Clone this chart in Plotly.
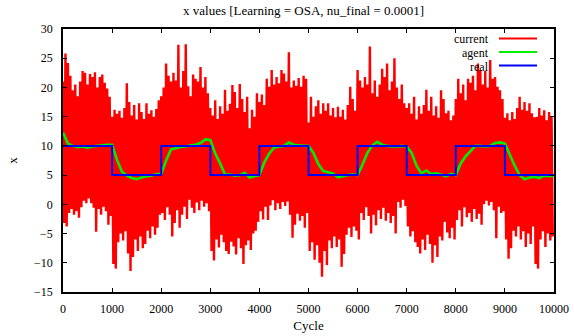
import plotly.graph_objects as go

# Target ("real") level held during each 1000-cycle block
block_edges = [0, 1000, 2000, 3000, 4000, 5000, 6000, 7000, 8000, 9000, 10000]
real_levels = [10, 5, 10, 5, 10, 5, 10, 5, 10, 5]

# Agent estimate, sampled every 100 cycles
agent_cycles = list(range(0, 10001, 100))
agent_values = [
    12.3, 10.4, 10.0, 9.8, 9.9, 9.7, 9.9, 10.0, 10.1, 10.2,
    10.2, 7.6, 5.6, 4.9, 4.5, 4.3, 4.6, 4.8, 4.9, 5.2,
    5.2, 7.5, 9.4, 9.6, 9.8, 9.9, 10.1, 10.2, 10.5, 11.1,
    11.0, 8.7, 7.0, 5.1, 5.1, 4.9, 5.0, 5.4, 4.6, 4.8,
    5.0, 7.2, 8.7, 9.7, 9.9, 10.0, 10.6, 10.2, 10.1, 10.0,
    10.0, 8.8, 6.9, 5.7, 5.5, 5.3, 4.6, 4.8, 5.0, 5.1,
    5.0, 6.8, 8.8, 10.1, 10.7, 10.2, 10.0, 9.9, 9.9, 10.0,
    9.9, 8.8, 6.6, 5.3, 5.8, 5.2, 5.3, 5.1, 4.8, 5.2,
    5.0, 7.0, 8.2, 9.1, 10.0, 10.0, 9.9, 10.0, 10.5, 10.6,
    10.4, 8.5, 6.6, 5.0, 4.3, 4.6, 4.7, 4.5, 4.9, 4.8,
    4.9,
]

# Noisy observed value: highest and lowest reading in each 50-cycle bin
bin_width = 50
current_high = [
    21.0, 25.8, 24.2, 22.0, 19.5, 20.5, 18.5, 21.0, 22.8, 22.5, 20.5, 22.3, 21.8, 22.6, 20.0, 21.8, 22.2, 20.8, 19.8, 18.4,
    15.0, 16.2, 15.5, 16.0, 14.8, 16.5, 20.7, 17.5, 15.2, 17.0, 14.5, 17.3, 15.8, 14.6, 17.3, 15.5, 16.1, 15.0, 16.3, 17.8,
    18.5, 20.0, 24.1, 22.0, 21.0, 22.5, 21.2, 27.3, 20.0, 22.8, 27.4, 20.2, 18.5, 22.2, 21.5, 21.0, 23.5, 20.0, 21.8, 19.0,
    16.5, 15.2, 17.8, 14.6, 16.8, 15.5, 19.6, 16.0, 17.2, 20.4, 19.2, 16.5, 20.6, 18.0, 15.8, 18.4, 13.0, 16.2, 15.0, 19.0,
    17.5, 18.8, 17.0, 21.5, 20.1, 23.0, 20.5, 21.8, 20.7, 23.0, 22.4, 21.0, 26.0, 20.0, 21.2, 20.3, 21.6, 20.1, 22.0, 21.5,
    14.0, 18.4, 15.0, 16.8, 17.8, 15.5, 17.3, 16.0, 17.3, 15.2, 16.5, 14.9, 16.7, 15.0, 16.2, 14.5, 17.0, 20.1, 18.0, 16.0,
    23.0, 21.2, 20.0, 21.8, 20.5, 27.0, 19.0, 21.2, 18.4, 20.5, 23.2, 21.8, 24.1, 19.5, 21.0, 25.0, 20.0, 18.0, 20.5, 17.3,
    16.5, 17.3, 15.5, 18.4, 14.5, 16.8, 15.5, 17.0, 19.6, 16.0, 18.4, 15.2, 16.8, 14.8, 19.5, 18.0, 15.6, 16.0, 14.4, 15.2,
    18.0, 21.5, 19.0, 20.5, 17.8, 21.5, 20.8, 22.0, 19.5, 24.1, 23.0, 20.5, 22.8, 20.0, 24.7, 21.5, 21.8, 20.1, 19.5, 18.0,
    14.8, 15.6, 14.4, 15.8, 14.6, 16.5, 18.4, 16.2, 17.5, 16.0, 17.3, 15.6, 14.9, 15.0, 16.5, 15.2, 16.1, 14.4, 15.8, 15.0,
]
current_low = [
    -3.2, -3.8, -1.5, -0.8, -1.8, -1.2, -2.3, -0.5, 0.6, 0.2, 1.0, 0.2, -0.6, -4.7, -0.8, -1.8, -0.4, -1.2, -3.5, -2.0,
    -10.2, -11.0, -6.5, -5.0, -6.2, -4.6, -8.4, -11.4, -9.0, -6.0, -8.0, -5.5, -7.5, -6.8, -4.5, -5.8, -3.8, -5.2, -4.0, -1.8,
    -1.5, -2.7, -0.5, -1.8, -5.5, -3.2, -1.0, -4.0, -1.8, -0.4, -2.5, 0.8, -0.6, -1.5, 0.3, -1.0, 0.6, -0.4, 0.2, -1.2,
    -8.0, -9.6, -6.0, -7.4, -5.2, -6.5, -8.0, -8.5, -6.4, -7.2, -8.6, -5.8, -7.5, -10.2, -7.0, -6.2, -7.8, -5.0, -4.5, -3.0,
    -1.2, -2.6, -0.4, -2.7, -0.2, 0.7, -1.0, 0.2, -0.8, 0.4, -0.3, 0.5, -1.8, -5.7, -3.5, -1.6, -2.8, -2.0, -4.0, -1.5,
    -8.0, -6.5, -9.5, -7.0, -10.0, -12.4, -8.0, -10.4, -6.2, -7.5, -5.5, -7.3, -6.0, -10.7, -8.5, -5.2, -4.0, -5.6, -3.8, -4.5,
    -6.0, -1.5, -2.7, -0.5, -2.0, -5.0, -1.8, -3.6, -1.0, -2.5, -0.6, -2.8, -1.5, -3.2, -2.0, -5.0, 0.4, -0.6, 0.8, -0.3,
    -3.8, -5.5, -4.6, -6.5, -7.3, -8.4, -6.0, -7.8, -5.2, -6.8, -10.0, -7.0, -9.0, -5.5, -6.2, -3.0, -4.8, -5.8, -4.0, -6.0,
    -2.7, -1.0, -3.8, -0.5, -2.2, -1.5, -3.0, -0.8, -2.5, -1.6, -3.5, 0.0, 0.6, -0.2, 0.4, -1.0, -5.8, -0.4, -1.5, -1.2,
    -6.0, -9.3, -7.5, -4.5, -5.5, -3.8, -6.0, -4.6, -7.3, -5.0, -6.8, -3.8, -10.2, -11.0, -6.0, -4.6, -7.3, -5.0, -6.2, -5.5,
]

RED = "#ff0000"
GREEN = "#00ee00"
BLUE = "#0000f0"
SERIF = "Liberation Serif, Times New Roman, serif"

# Zig-zag between each bin's high and low reading
cur_x, cur_y = [], []
for i, (hi, lo) in enumerate(zip(current_high, current_low)):
    cur_x += [i * bin_width, i * bin_width + bin_width / 2]
    cur_y += [hi, lo]

real_x = block_edges
real_y = real_levels + [real_levels[-1]]

fig = go.Figure()
fig.add_trace(go.Scatter(x=cur_x, y=cur_y, mode="lines", name="current",
                         line=dict(color=RED, width=2.4, simplify=False), showlegend=False))
fig.add_trace(go.Scatter(x=agent_cycles, y=agent_values, mode="lines", name="agent",
                         line=dict(color=GREEN, width=2.6, simplify=False), showlegend=False))
fig.add_trace(go.Scatter(x=real_x, y=real_y, mode="lines", name="real",
                         line=dict(color=BLUE, width=2, shape="hv"), showlegend=False))

# Key in the top-right corner: label text right-aligned, line sample to its right
plot_l, plot_r, plot_t, plot_b = 63, 554, 29, 292
def px_x(px):
    return (px - plot_l) / (plot_r - plot_l)
def px_y(py):
    return (plot_b - py) / (plot_b - plot_t)

key = [("current", RED, 38.5), ("agent", GREEN, 52), ("real", BLUE, 65.5)]
for label, color, py in key:
    fig.add_annotation(x=px_x(491), y=px_y(py + 1), xref="paper", yref="paper",
                       text=label, showarrow=False, xanchor="right", yanchor="middle",
                       font=dict(family=SERIF, size=12, color="black"))
    fig.add_shape(type="line", xref="paper", yref="paper",
                  x0=px_x(499), x1=px_x(537), y0=px_y(py), y1=px_y(py),
                  line=dict(color=color, width=1.8))

# Sub-figure caption sitting at the lower canvas edge
fig.add_annotation(x=px_x(50), y=px_y(332), xref="paper", yref="paper",
                   text="(a)", showarrow=False, xanchor="center", yanchor="top",
                   font=dict(family=SERIF, size=13, color="black"))

axis_common = dict(showline=True, linecolor="black", linewidth=1.5, mirror="ticks",
                   ticks="inside", ticklen=4, tickwidth=1, tickcolor="black",
                   showgrid=False, zeroline=False, automargin=False,
                   tickfont=dict(family=SERIF, size=12, color="black"))

fig.update_layout(
    width=574, height=336,
    margin=dict(l=plot_l, r=574 - plot_r, t=plot_t, b=336 - plot_b, autoexpand=False),
    paper_bgcolor="white", plot_bgcolor="white",
    title=dict(text="x values [Learning = OSA, nu_final = 0.0001]",
               x=0.49, xref="paper", xanchor="center", y=1 - 10 / 336, yanchor="middle",
               font=dict(family=SERIF, size=13, color="black")),
    xaxis=dict(range=[0, 10000], tickmode="linear", tick0=0, dtick=1000,
               tickformat="d", ticklabelstandoff=5,
               title=dict(text="Cycle", font=dict(family=SERIF, size=13, color="black"),
                          standoff=6),
               **axis_common),
    yaxis=dict(range=[-15, 30], tickmode="linear", tick0=-15, dtick=5,
               ticklabelstandoff=6,
               title=dict(text="x", font=dict(family=SERIF, size=13, color="black"),
                          standoff=14),
               **axis_common),
)

fig.write_html("out.html")
